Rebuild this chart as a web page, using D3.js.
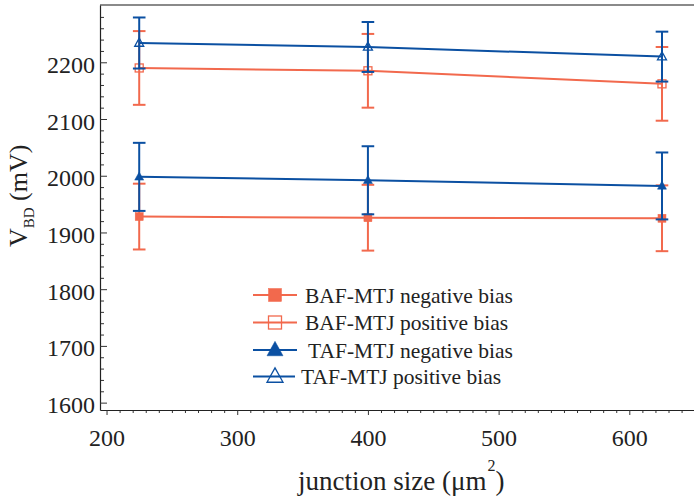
<!DOCTYPE html>
<html>
<head>
<meta charset="utf-8">
<script src="https://cdn.jsdelivr.net/npm/d3@7"></script>
<style>
  body { margin: 0; background: #fff; }
  svg text { font-family: "Liberation Serif", "DejaVu Serif", serif; fill: #222; }
</style>
</head>
<body>
<svg id="chart" width="694" height="499"></svg>
<script>
// Junction sizes (µm²) and breakdown voltages (mV) with error bars
const sizes = [225, 400, 625];
const bafNeg = [1928, 1926, 1925];
const bafNegErr = [58, 58, 58];
const bafPos = [2190, 2185, 2162];
const bafPosErr = [65, 65, 65];
const tafNeg = [1998, 1992, 1982];
const tafNegErr = [60, 60, 59];
const tafPos = [2234, 2227, 2210];
const tafPosErr = [45, 44, 44];

const seriesNames = ["BAF-MTJ negative bias", "BAF-MTJ positive bias",
                     "TAF-MTJ negative bias", "TAF-MTJ positive bias"];
const xTicks = [200, 300, 400, 500, 600];
const yTicks = [1600, 1700, 1800, 1900, 2000, 2100, 2200];

const orange = "#f2694d";
const blue = "#0b50a2";
const serif = "'Liberation Serif', 'DejaVu Serif', serif";

const series = [
  { name: seriesNames[0], values: bafNeg, errs: bafNegErr, color: orange, shape: "square", filled: true },
  { name: seriesNames[1], values: bafPos, errs: bafPosErr, color: orange, shape: "square", filled: false },
  { name: seriesNames[2], values: tafNeg, errs: tafNegErr, color: blue, shape: "triangle", filled: true },
  { name: seriesNames[3], values: tafPos, errs: tafPosErr, color: blue, shape: "triangle", filled: false }
];

const svg = d3.select("#chart");
const plotLeft = 100, plotRight = 694, plotTop = 5, plotBottom = 410;

const x = d3.scaleLinear().domain([195, 649.5]).range([plotLeft, plotRight]);
const y = d3.scaleLinear().domain([1587, 2301]).range([plotBottom, plotTop]);

// top frame line
svg.append("line")
  .attr("x1", plotLeft).attr("x2", plotRight).attr("y1", plotTop).attr("y2", plotTop)
  .attr("stroke", "#8a8a8a").attr("stroke-width", 1.8);

// minor ticks
const xMinor = d3.range(200, 650, 10).filter(v => v % 100 !== 0);
const yMinor = d3.range(1600, 2300, 20).filter(v => v % 100 !== 0);

svg.append("g")
  .attr("transform", `translate(0,${plotBottom})`)
  .call(d3.axisBottom(x).tickValues(xMinor).tickSize(3).tickSizeOuter(0).tickFormat(""))
  .call(g => g.select(".domain").remove())
  .call(g => g.selectAll("line").attr("stroke", "#333"));

svg.append("g")
  .attr("transform", `translate(${plotLeft},0)`)
  .call(d3.axisLeft(y).tickValues(yMinor).tickSize(-4).tickSizeOuter(0).tickFormat(""))
  .call(g => g.select(".domain").remove())
  .call(g => g.selectAll("line").attr("stroke", "#333"));

// major axes
const xAxis = svg.append("g")
  .attr("transform", `translate(0,${plotBottom})`)
  .call(d3.axisBottom(x).tickValues(xTicks).tickSize(5).tickSizeOuter(0)
    .tickPadding(14).tickFormat(d3.format("d")));
xAxis.select(".domain").attr("stroke", "#222").attr("stroke-width", 1.2);
xAxis.selectAll("line").attr("stroke", "#333");
xAxis.selectAll("text").style("font-family", serif).style("font-size", "24px").style("fill", "#222");

const yAxis = svg.append("g")
  .attr("transform", `translate(${plotLeft},0)`)
  .call(d3.axisLeft(y).tickValues(yTicks).tickSize(-7).tickSizeOuter(0)
    .tickPadding(5).tickFormat(d3.format("d")));
yAxis.select(".domain").attr("stroke", "#222").attr("stroke-width", 1.2);
yAxis.selectAll("line").attr("stroke", "#333");
yAxis.selectAll("text").attr("dy", "0.42em")
  .style("font-family", serif).style("font-size", "24px").style("fill", "#222");

// markers
function drawMarker(g, shape, cx, cy, size, color, filled) {
  if (shape === "square") {
    g.append("rect")
      .attr("x", cx - size / 2).attr("y", cy - size / 2)
      .attr("width", size).attr("height", size)
      .attr("fill", filled ? color : "none")
      .attr("stroke", color).attr("stroke-width", filled ? 0.5 : 1.3);
  } else {
    const h = size * 0.9;
    const pts = [[cx, cy - h * 0.6], [cx + size / 2, cy + h * 0.4], [cx - size / 2, cy + h * 0.4]];
    g.append("path")
      .attr("d", d3.line()(pts) + "Z")
      .attr("fill", filled ? color : "none")
      .attr("stroke", color).attr("stroke-width", filled ? 0.5 : 1.3);
  }
}

const plot = svg.append("g");
series.forEach(s => {
  const g = plot.append("g");
  const pts = sizes.map((v, i) => [x(v), y(s.values[i])]);
  g.append("path")
    .attr("d", d3.line()(pts))
    .attr("fill", "none").attr("stroke", s.color).attr("stroke-width", 2);
  sizes.forEach((v, i) => {
    const cx = x(v);
    const hi = y(s.values[i] + s.errs[i]);
    const lo = y(s.values[i] - s.errs[i]);
    g.append("line").attr("x1", cx).attr("x2", cx).attr("y1", hi).attr("y2", lo)
      .attr("stroke", s.color).attr("stroke-width", 2);
    [hi, lo].forEach(yy => {
      g.append("line").attr("x1", cx - 6.3).attr("x2", cx + 6.3).attr("y1", yy).attr("y2", yy)
        .attr("stroke", s.color).attr("stroke-width", 2);
    });
    drawMarker(g, s.shape, cx, y(s.values[i]), s.shape === "square" ? 8 : 9, s.color, s.filled);
  });
});

// legend
const legendY = [295, 322.5, 350, 376.5];
const legendTextX = [305, 305, 308, 301];
const legend = svg.append("g");
series.forEach((s, i) => {
  const ly = legendY[i];
  const lineEnd = i === 3 ? 295 : 297;
  legend.append("line").attr("x1", 253).attr("x2", lineEnd).attr("y1", ly).attr("y2", ly)
    .attr("stroke", s.color).attr("stroke-width", 2);
  drawMarker(legend, s.shape, 275, ly, s.shape === "square" ? 13 : 16, s.color, s.filled);
  legend.append("text")
    .attr("x", legendTextX[i]).attr("y", ly + 7.5)
    .style("font-family", serif).style("font-size", "21.5px")
    .text(s.name);
});

// axis titles
const xt = svg.append("text")
  .attr("x", 298).attr("y", 490)
  .style("font-family", serif).style("font-size", "27px");
xt.append("tspan").text("junction size (μm");
xt.append("tspan").style("font-size", "16px").attr("dy", -19).attr("dx", 1).text("2");
xt.append("tspan").attr("dy", 19).attr("dx", 0).text(")");

const yt = svg.append("text")
  .attr("transform", "translate(27,247) rotate(-90)")
  .style("font-family", serif).style("font-size", "26px");
yt.append("tspan").text("V");
yt.append("tspan").style("font-size", "15px").attr("dy", 7).text("BD");
yt.append("tspan").attr("dy", -7).text(" (mV)");
</script>
</body>
</html>
